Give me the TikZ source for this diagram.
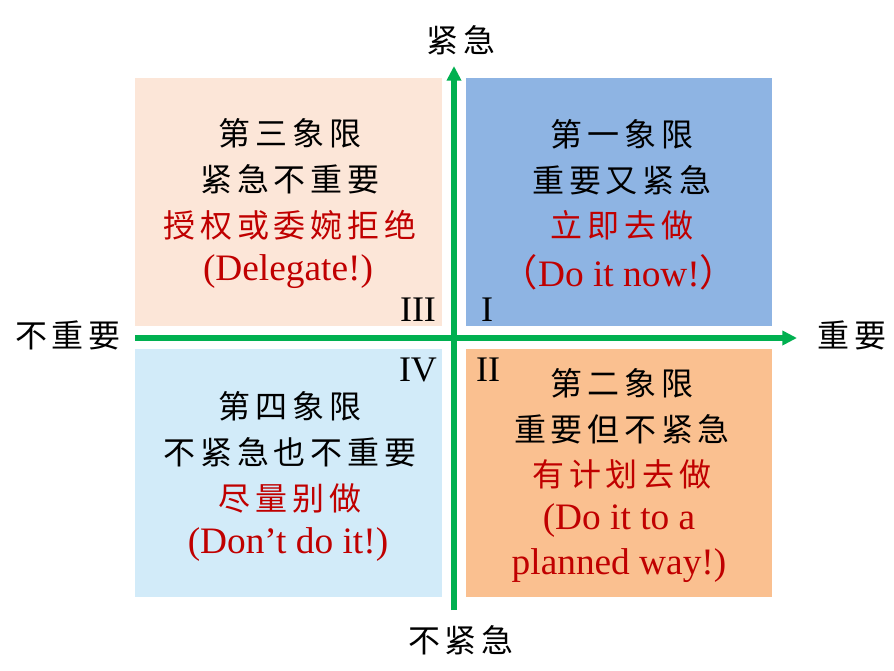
\documentclass[tikz,border=0pt]{standalone}
\usepackage{fontspec}
\setmainfont{Liberation Serif}
\newfontfamily\cjk[LetterSpace=15]{Noto Sans CJK SC}
\newfontfamily\cjkp{Noto Sans CJK SC}
\usetikzlibrary{arrows.meta}
\definecolor{qone}{HTML}{8EB4E3}
\definecolor{qtwo}{HTML}{FAC090}
\definecolor{qthree}{HTML}{FCE6D8}
\definecolor{qfour}{HTML}{D2EBF9}
\definecolor{axgreen}{HTML}{00B050}
\definecolor{txtred}{HTML}{C00000}
\tikzset{
  cjkline/.style={inner sep=0pt, anchor=center, font=\cjk\fontsize{24pt}{28pt}\selectfont},
  cjkred/.style={cjkline, text=txtred},
  enline/.style={inner sep=0pt, anchor=center, text=txtred, font=\fontsize{28pt}{32pt}\selectfont},
  roman/.style={inner sep=0pt, anchor=center, font=\fontsize{27pt}{30pt}\selectfont},
  axislabel/.style={cjkline},
  axis/.style={draw=axgreen, line width=3.8pt, -{Triangle[length=11pt,width=10.5pt]}}
}
\begin{document}
\begin{tikzpicture}[x=0.75pt,y=-0.75pt]
\useasboundingbox (0,0) rectangle (894,671);
\fill[white] (0,0) rectangle (894,671);
% quadrants
\fill[qthree] (135,78) rectangle (442,326);
\fill[qone] (466,78) rectangle (772,326);
\fill[qfour] (135,349) rectangle (442,597);
\fill[qtwo] (466,349) rectangle (772,597);
% axes
\coordinate (hs) at (135,338);
\coordinate (he) at (797,338);
\coordinate (vs) at (454,610);
\coordinate (ve) at (454,66);
\draw[axis] (hs) -- (he);
\draw[axis] (vs) -- (ve);
% axis labels
\node[axislabel] (lu) at (461,40) {紧急};
\node[axislabel] (lnu) at (461,640) {不紧急};
\node[axislabel] (lni) at (68,335) {不重要};
\node[axislabel] (li) at (852,335) {重要};
% roman numerals
\node[roman] (r3) at (418,310) {III};
\node[roman] (r1) at (487,310) {I};
\node[roman] (r4) at (418,370) {IV};
\node[roman] (r2) at (488,370) {II};
% Q3
\node[cjkline] (q3a) at (290,133) {第三象限};
\node[cjkline] (q3b) at (290,179) {紧急不重要};
\node[cjkred] (q3c) at (290,225) {授权或委婉拒绝};
\node[enline] (q3d) at (288,272) {(Delegate!)};
% Q1
\node[cjkline] (q1a) at (622,134) {第一象限};
\node[cjkline] (q1b) at (622,180) {重要又紧急};
\node[cjkred] (q1c) at (622,225) {立即去做};
\node[enline] (q1d) at (619,272) {{\cjkp （}Do it now!{\cjkp ）}};
% Q4
\node[cjkline] (q4a) at (290,406) {第四象限};
\node[cjkline] (q4b) at (290,452) {不紧急也不重要};
\node[cjkred] (q4c) at (290,498) {尽量别做};
\node[enline] (q4d) at (288,545) {(Don’t do it!)};
% Q2
\node[cjkline] (q2a) at (622,383) {第二象限};
\node[cjkline] (q2b) at (622,429) {重要但不紧急};
\node[cjkred] (q2c) at (622,474) {有计划去做};
\node[enline] (q2d) at (619,521) {(Do it to a};
\node[enline] (q2e) at (619,566) {planned way!)};
\end{tikzpicture}
\end{document}
